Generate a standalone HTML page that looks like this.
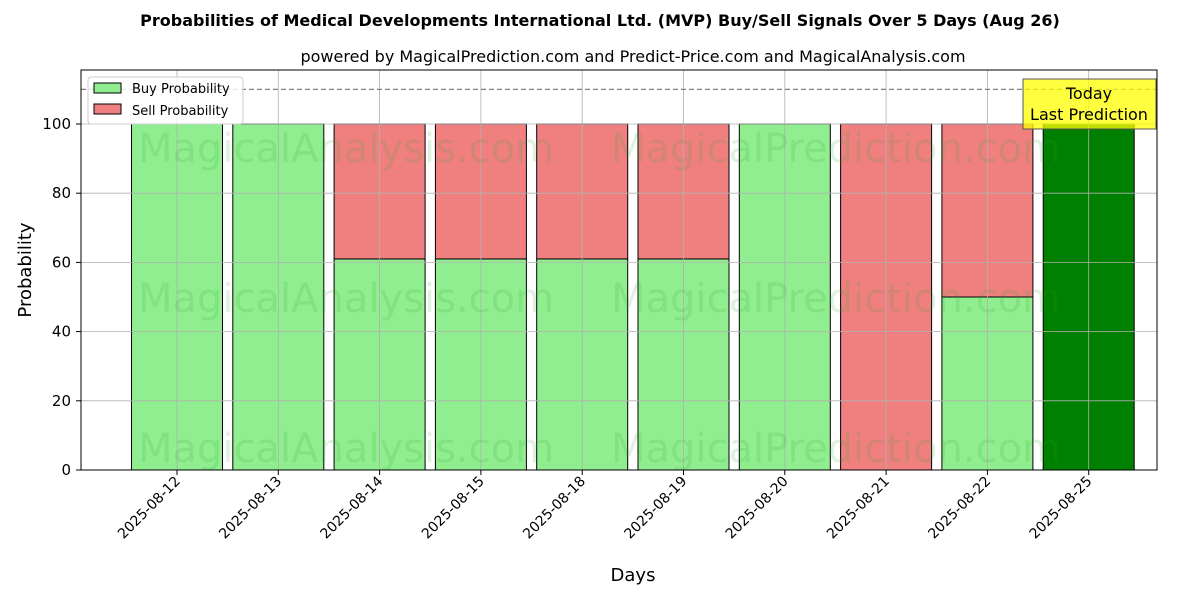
<!DOCTYPE html>
<html><head><meta charset="utf-8"><style>
body{margin:0;background:#fff;font-family:"DejaVu Sans","Liberation Sans",sans-serif;}
svg text{font-family:"DejaVu Sans","Liberation Sans",sans-serif;}
</style></head><body>
<svg id="chart" width="1200" height="600" xmlns="http://www.w3.org/2000/svg">
<rect width="1200" height="600" fill="#fff"/>
<text x="600" y="26" text-anchor="middle" font-size="16" font-weight="bold">Probabilities of Medical Developments International Ltd. (MVP) Buy/Sell Signals Over 5 Days (Aug 26)</text>
<text x="633" y="62" text-anchor="middle" font-size="16">powered by MagicalPrediction.com and Predict-Price.com and MagicalAnalysis.com</text>
<g id="bars"></g>
<g id="grid"></g>
<g font-size="40" fill="#2ca02c" fill-opacity="0.15">
<text x="346" y="162" text-anchor="middle">MagicalAnalysis.com</text>
<text x="836" y="162" text-anchor="middle">MagicalPrediction.com</text>
<text x="346" y="312" text-anchor="middle">MagicalAnalysis.com</text>
<text x="836" y="312" text-anchor="middle">MagicalPrediction.com</text>
<text x="346" y="462" text-anchor="middle">MagicalAnalysis.com</text>
<text x="836" y="462" text-anchor="middle">MagicalPrediction.com</text>
</g>
<line x1="81" x2="1157" y1="89.4" y2="89.4" stroke="#808080" stroke-width="1.2" stroke-dasharray="5,3"/>
<rect x="81" y="70" width="1076" height="400" fill="none" stroke="#000" stroke-width="1"/>
<g id="axes"></g>
<g>
<rect x="1023" y="79" width="133" height="50" fill="#ffff00" fill-opacity="0.75" stroke="#555"/>
<text x="1089" y="99" text-anchor="middle" font-size="16">Today</text>
<text x="1089" y="120" text-anchor="middle" font-size="16">Last Prediction</text>
</g>
<g>
<rect x="88" y="77" width="155" height="47" rx="3" fill="#fff" fill-opacity="0.8" stroke="#ccc"/>
<rect x="94" y="83" width="27" height="10" fill="#90ee90" stroke="#000"/>
<text x="132" y="93" font-size="13">Buy Probability</text>
<rect x="94" y="104" width="27" height="10" fill="#f08080" stroke="#000"/>
<text x="132" y="115" font-size="13">Sell Probability</text>
</g>
<text x="633" y="581" text-anchor="middle" font-size="18">Days</text>
<text transform="translate(31,270) rotate(-90)" text-anchor="middle" font-size="18">Probability</text>
</svg>
<script>
const categories=["2025-08-12","2025-08-13","2025-08-14","2025-08-15","2025-08-18","2025-08-19","2025-08-20","2025-08-21","2025-08-22","2025-08-25"];
const buyValues=[100,100,61,61,61,61,100,0,50,100];
const sellValues=[0,0,39,39,39,39,0,100,50,0];
const yTicks=[0,20,40,60,80,100];
const NS="http://www.w3.org/2000/svg";
const y=v=>470-v*3.46;
const x=i=>177+i*101.3;
const bw=91;
function mk(t,a,p){const e=document.createElementNS(NS,t);for(const k in a)e.setAttribute(k,a[k]);p.appendChild(e);return e;}
const bars=document.getElementById('bars'),grid=document.getElementById('grid'),axes=document.getElementById('axes');
categories.forEach((c,i)=>{
  const last=i===categories.length-1;
  const b=mk('rect',{x:x(i)-bw/2,y:y(buyValues[i]),width:bw,height:470-y(buyValues[i]),fill:last?'#008000':'#90ee90',stroke:'#000','stroke-width':1},bars);
  
  
  if(sellValues[i]>0){
    const s=mk('rect',{x:x(i)-bw/2,y:y(buyValues[i]+sellValues[i]),width:bw,height:sellValues[i]*3.46,fill:'#f08080',stroke:'#000','stroke-width':1},bars);
    
    
  }
  const g=mk('line',{x1:x(i),x2:x(i),y1:70,y2:470,stroke:'#b0b0b0','stroke-width':0.8},grid);
  
  
  mk('line',{x1:x(i),x2:x(i),y1:470,y2:475,stroke:'#000'},axes);
  const t=mk('text',{transform:`translate(${x(i)+4},${482}) rotate(-45)`,'text-anchor':'end','font-size':14},axes);
  t.textContent=c;
  
  
});
yTicks.forEach(v=>{
  const g=mk('line',{x1:81,x2:1157,y1:y(v),y2:y(v),stroke:'#b0b0b0','stroke-width':0.8},grid);
  
  
  mk('line',{x1:76,x2:81,y1:y(v),y2:y(v),stroke:'#000'},axes);
  const t=mk('text',{x:71,y:y(v)+5,'text-anchor':'end','font-size':15},axes);
  t.textContent=v;
  
  
});
</script>
</body></html>
